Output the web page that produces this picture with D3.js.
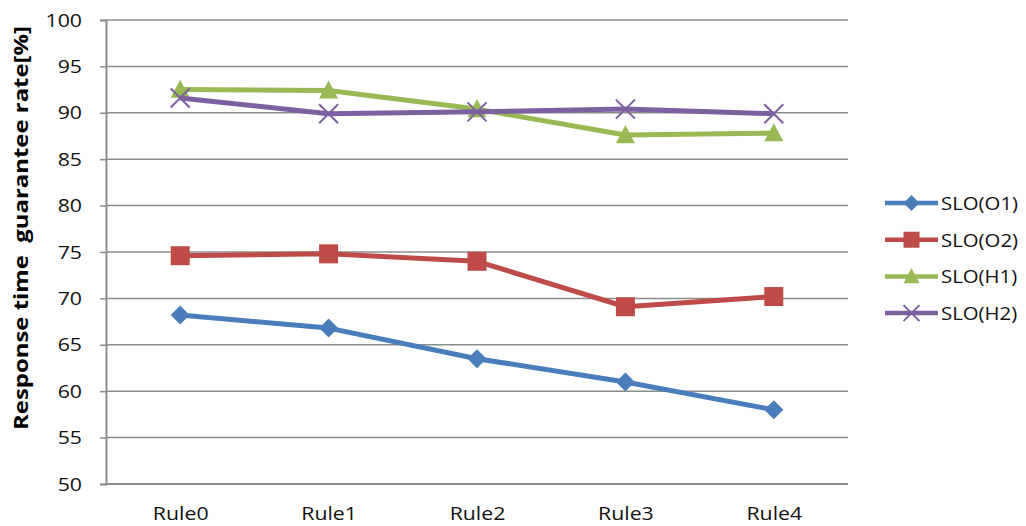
<!DOCTYPE html>
<html>
<head>
<meta charset="utf-8">
<script src="https://cdn.jsdelivr.net/npm/d3@7"></script>
<style>
  html, body { margin: 0; padding: 0; background: #fff; }
  svg { display: block; font-family: "Open Sans", "Liberation Sans", sans-serif; }
</style>
</head>
<body>
<svg id="chart" width="1026" height="526"></svg>
<script>
// Rule variants along the x axis
const categories = ["Rule0", "Rule1", "Rule2", "Rule3", "Rule4"];

// Response time guarantee rate [%] per SLO class
const sloO1 = [68.2, 66.8, 63.5, 61.0, 58.0];
const sloO2 = [74.6, 74.8, 74.0, 69.1, 70.2];
const sloH1 = [92.5, 92.4, 90.4, 87.6, 87.8];
const sloH2 = [91.6, 89.9, 90.1, 90.4, 89.9];

const seriesNames = ["SLO(O1)", "SLO(O2)", "SLO(H1)", "SLO(H2)"];
const yTicks = [50, 55, 60, 65, 70, 75, 80, 85, 90, 95, 100];

const seriesValues = [sloO1, sloO2, sloH1, sloH2];
const colors = ["#4A7EBB", "#BE4B48", "#98B954", "#7D60A0"];
const markers = ["diamond", "square", "triangle", "cross"];

const svg = d3.select("#chart");
const plot = { left: 106, right: 848, top: 20, bottom: 484 };
const labelFont = "19px";
const widen = 1.12;

// widen glyphs horizontally, keeping the anchor point in place
function stretch(sel, factor) {
  sel.each(function () {
    const w = this.getComputedTextLength();
    d3.select(this)
      .attr("textLength", w * factor)
      .attr("lengthAdjust", "spacingAndGlyphs");
  });
}

const x = d3.scalePoint()
  .domain(categories)
  .range([plot.left, plot.right])
  .padding(0.5);

const y = d3.scaleLinear()
  .domain([50, 100])
  .range([plot.bottom, plot.top]);

const gridColor = "#8c8c8c";

// horizontal gridlines
svg.append("g")
  .selectAll("line")
  .data(yTicks.filter(v => v > 50))
  .join("line")
  .attr("x1", plot.left).attr("x2", plot.right)
  .attr("y1", d => y(d)).attr("y2", d => y(d))
  .attr("stroke", gridColor)
  .attr("stroke-width", 1.5);

// y axis
const yAxis = svg.append("g")
  .attr("transform", `translate(${plot.left},0)`)
  .call(d3.axisLeft(y).tickValues(yTicks).tickSize(6).tickPadding(18));
yAxis.select(".domain").attr("stroke", gridColor).attr("stroke-width", 2);
yAxis.selectAll(".tick line").attr("stroke", gridColor).attr("stroke-width", 1.5);
yAxis.selectAll(".tick text")
  .attr("fill", "#111")
  .style("font-size", labelFont)
  .style("font-family", "\"Open Sans\", sans-serif")
  .call(stretch, widen);

// x axis
const xAxis = svg.append("g")
  .attr("transform", `translate(0,${plot.bottom})`)
  .call(d3.axisBottom(x).tickSize(0).tickPadding(23));
xAxis.select(".domain")
  .attr("d", `M${plot.left},0H${plot.right}`)
  .attr("stroke", gridColor).attr("stroke-width", 2);
xAxis.selectAll(".tick text")
  .attr("fill", "#111")
  .style("font-size", labelFont)
  .style("font-family", "\"Open Sans\", sans-serif")
  .call(stretch, widen);

// y axis title
svg.append("text")
  .attr("transform", "translate(28,228) rotate(-90)")
  .attr("text-anchor", "middle")
  .attr("textLength", 404)
  .attr("lengthAdjust", "spacingAndGlyphs")
  .attr("fill", "#000")
  .style("font-size", "20px")
  .style("font-weight", "bold")
  .attr("xml:space", "preserve")
  .text("Response time  guarantee rate[%]");

// marker drawing
function drawMarker(g, type, color, r) {
  if (type === "diamond") {
    g.append("path").attr("d", `M0,${-r}L${r},0L0,${r}L${-r},0Z`).attr("fill", color);
  } else if (type === "square") {
    g.append("rect").attr("x", -r).attr("y", -r).attr("width", 2 * r).attr("height", 2 * r).attr("fill", color);
  } else if (type === "triangle") {
    g.append("path").attr("d", `M0,${-r * 1.05}L${r},${r * 0.85}L${-r},${r * 0.85}Z`).attr("fill", color);
  } else if (type === "cross") {
    g.append("path").attr("d", `M${-r},${-r}L${r},${r}M${-r},${r}L${r},${-r}`)
      .attr("stroke", color).attr("stroke-width", 2).attr("fill", "none");
  }
}

const line = d3.line()
  .x((d, i) => x(categories[i]))
  .y(d => y(d));

seriesValues.forEach((vals, s) => {
  const g = svg.append("g");
  g.append("path")
    .datum(vals)
    .attr("d", line)
    .attr("fill", "none")
    .attr("stroke", colors[s])
    .attr("stroke-width", 5)
    .attr("stroke-linejoin", "round");
  vals.forEach((v, i) => {
    const m = g.append("g").attr("transform", `translate(${x(categories[i])},${y(v)})`);
    drawMarker(m, markers[s], colors[s], 9.5);
  });
});

// legend
const legend = svg.append("g");
seriesNames.forEach((name, s) => {
  const ly = 203 + s * 36.7;
  const row = legend.append("g").attr("transform", `translate(0,${ly})`);
  row.append("line")
    .attr("x1", 885).attr("x2", 938)
    .attr("stroke", colors[s]).attr("stroke-width", 4.5);
  const m = row.append("g").attr("transform", "translate(911.5,0)");
  drawMarker(m, markers[s], colors[s], 8);
  row.append("text")
    .attr("x", 941).attr("y", 0).attr("dy", "0.36em")
    .attr("fill", "#111")
    .style("font-size", labelFont)
    .text(name)
    .call(stretch, 1.07);
});
</script>
</body>
</html>
